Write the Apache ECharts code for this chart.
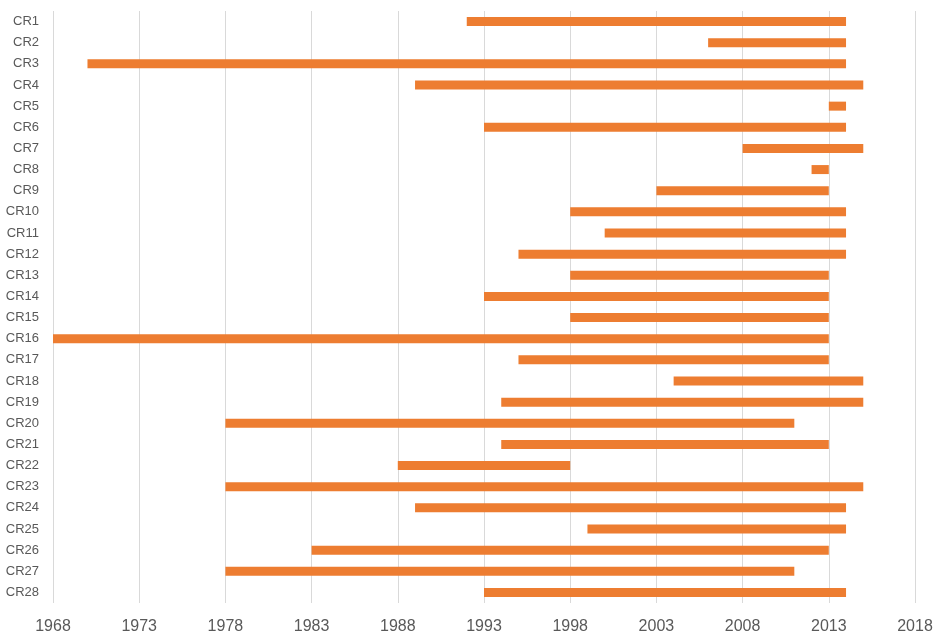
<!DOCTYPE html>
<html>
<head>
<meta charset="utf-8">
<script src="https://cdn.jsdelivr.net/npm/echarts@6/dist/echarts.min.js"></script>
<style>
html,body{margin:0;padding:0;background:#fff;}
#chart{width:945px;height:643px;}
</style>
</head>
<body>
<div id="chart"></div>
<script>
var categories = ['CR1','CR2','CR3','CR4','CR5','CR6','CR7','CR8','CR9','CR10','CR11','CR12','CR13','CR14','CR15','CR16','CR17','CR18','CR19','CR20','CR21','CR22','CR23','CR24','CR25','CR26','CR27','CR28'];
var startYears = [1992,2006,1970,1989,2013,1993,2008,2012,2003,1998,2000,1995,1998,1993,1998,1968,1995,2004,1994,1978,1994,1988,1978,1989,1999,1983,1978,1993];
var endYears   = [2014,2014,2014,2015,2014,2014,2015,2013,2013,2014,2014,2014,2013,2013,2013,2013,2013,2015,2015,2011,2013,1998,2015,2014,2014,2013,2011,2014];
var xTicks = [1968,1973,1978,1983,1988,1993,1998,2003,2008,2013,2018];

var durations = startYears.map(function(s,i){ return endYears[i] - s; });

var chart = echarts.init(document.getElementById('chart'));
chart.setOption({
  animation: false,
  grid: { left: 53, right: 30, top: 11, bottom: 40, containLabel: false },
  xAxis: {
    type: 'value',
    min: xTicks[0],
    max: xTicks[xTicks.length-1],
    interval: 5,
    axisLine: { show: false },
    axisTick: { show: false },
    splitLine: { show: true, lineStyle: { color: '#d9d9d9', width: 1 } },
    axisLabel: {
      color: '#595959', fontSize: 16, fontFamily: 'Liberation Sans, Arial, sans-serif', margin: 16,
      formatter: function(v){ return String(v); }
    }
  },
  yAxis: {
    type: 'category',
    data: categories,
    inverse: true,
    axisLine: { show: false },
    axisTick: { show: false },
    splitLine: { show: false },
    axisLabel: { color: '#595959', fontSize: 13, fontFamily: 'Liberation Sans, Arial, sans-serif', margin: 14 }
  },
  series: [
    {
      type: 'bar',
      stack: 'span',
      data: startYears,
      barWidth: 9,
      itemStyle: { color: 'rgba(0,0,0,0)' },
      silent: true
    },
    {
      type: 'bar',
      stack: 'span',
      data: durations,
      barWidth: 9,
      itemStyle: { color: '#ED7D31' }
    }
  ]
});
</script>
</body>
</html>
